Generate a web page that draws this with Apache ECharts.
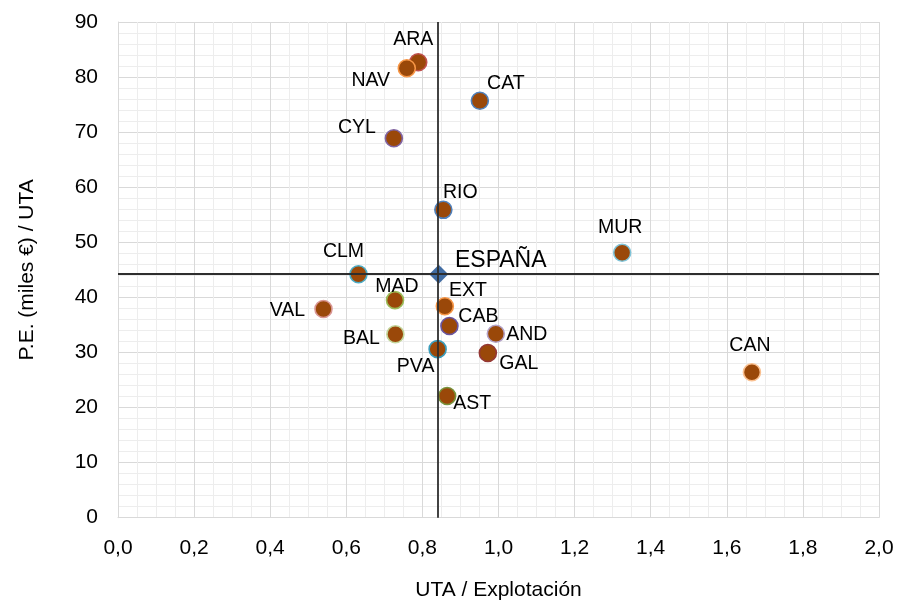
<!DOCTYPE html>
<html>
<head>
<meta charset="utf-8">
<script src="https://cdn.jsdelivr.net/npm/echarts@6/dist/echarts.min.js"></script>
<style>
html,body{margin:0;padding:0;background:#fff;}
#chart{width:898px;height:601px;}
</style>
</head>
<body>
<div id="chart"></div>
<script>
// ---- data ----
const regions = ['ARA','NAV','CAT','CYL','RIO','MUR','CLM','MAD','EXT','VAL','CAB','AND','BAL','PVA','GAL','AST','CAN'];
const utaPorExplotacion = [0.789,0.759,0.951,0.725,0.855,1.325,0.632,0.728,0.859,0.540,0.871,0.993,0.729,0.840,0.972,0.865,1.666];
const peMilesPorUta = [82.7,81.6,75.7,68.9,55.9,48.1,44.2,39.5,38.4,37.9,34.8,33.4,33.3,30.6,29.9,22.1,26.4];
const espanaName = ['ESPAÑA'];
const espanaX = [0.843];
const espanaY = [44.2];
const crossX = [0.837];
const crossY = [44.25];
const xTicks = [0,0.2,0.4,0.6,0.8,1.0,1.2,1.4,1.6,1.8,2.0];
const yTicks = [0,10,20,30,40,50,60,70,80,90];

// ---- styling (not data) ----
const borderColors = ['#C0504D','#F79646','#4F81BD','#8064A2','#4F81BD','#7FC4D9','#4BACC6','#9BBB59','#F79646','#D99694','#6A55A0','#B3A2C7','#C3D69B','#3A9DBB','#953735','#77933C','#FAC090'];
const labelOffsets = [[-5,-23],[-36,12],[26,-17],[-37,-11],[17,-17],[-2,-25],[-15,-23],[2,-14],[23,-16],[-36,2],[29,-9],[31,1],[-34,4],[-22,17],[31,11],[25,8],[-2,-27]];
const FONT = 'Liberation Sans, Arial, sans-serif';

const chart = echarts.init(document.getElementById('chart'), null, {renderer:'canvas'});

const pointData = regions.map((r,i)=>({
  name: r,
  value: [utaPorExplotacion[i], peMilesPorUta[i]],
  itemStyle: {color:'#9A4809', borderColor: borderColors[i], borderWidth: 1.6, opacity:1},
  label: {show:true, formatter: r, position:'inside', offset: labelOffsets[i],
          align:'center', verticalAlign:'middle', color:'#000', fontSize:19.5, fontFamily:FONT}
}));

const option = {
  animation:false,
  backgroundColor:'#fff',
  grid:{left:118,right:19,top:22,bottom:83.3,containLabel:false,outerBoundsMode:'none'},
  xAxis:{
    type:'value', min:xTicks[0], max:xTicks[xTicks.length-1], interval:0.2,
    name:'UTA / Explotación', nameLocation:'middle', nameGap:62,
    nameTextStyle:{fontSize:21,fontFamily:FONT,color:'#000'},
    axisLine:{show:true,lineStyle:{color:'#D9D9D9',width:1}},
    axisTick:{show:false},
    axisLabel:{fontSize:21,fontFamily:FONT,color:'#000',margin:20,
      formatter:v=>v.toFixed(1).replace('.',',')},
    splitLine:{show:true,lineStyle:{color:'#D9D9D9',width:1}},
    minorTick:{show:false,splitNumber:4},
    minorSplitLine:{show:true,lineStyle:{color:'#EDEDED',width:1}}
  },
  yAxis:{
    type:'value', min:yTicks[0], max:yTicks[yTicks.length-1], interval:10,
    name:'P.E. (miles €) / UTA', nameLocation:'middle', nameGap:80, nameRotate:90,
    nameTextStyle:{fontSize:21,fontFamily:FONT,color:'#000'},
    axisLine:{show:true,lineStyle:{color:'#D9D9D9',width:1}},
    axisTick:{show:false},
    axisLabel:{fontSize:21,fontFamily:FONT,color:'#000',margin:20},
    splitLine:{show:true,lineStyle:{color:'#D9D9D9',width:1}},
    minorTick:{show:false,splitNumber:5},
    minorSplitLine:{show:true,lineStyle:{color:'#EDEDED',width:1}}
  },
  series:[
    {
      type:'scatter', z:1, data:[], silent:true,
      markLine:{
        silent:true, symbol:'none', animation:false,
        label:{show:false},
        lineStyle:{color:'#2E2E2E',width:1.8,type:'solid'},
        data:[{xAxis:crossX[0]},{yAxis:crossY[0]}]
      }
    },
    {
      type:'scatter', z:3, symbol:'circle', symbolSize:17,
      data: pointData
    },
    {
      type:'scatter', z:4, symbol:'diamond', symbolSize:19,
      data: espanaName.map((n,i)=>({name:n, value:[espanaX[i], espanaY[i]]})),
      itemStyle:{color:'#426DA3', opacity:1},
      label:{show:true, formatter:'{b}', position:'inside', offset:[62,-14],
        align:'center', verticalAlign:'middle', color:'#000', fontSize:23, fontFamily:FONT}
    }
  ]
};
chart.setOption(option);
</script>
</body>
</html>
